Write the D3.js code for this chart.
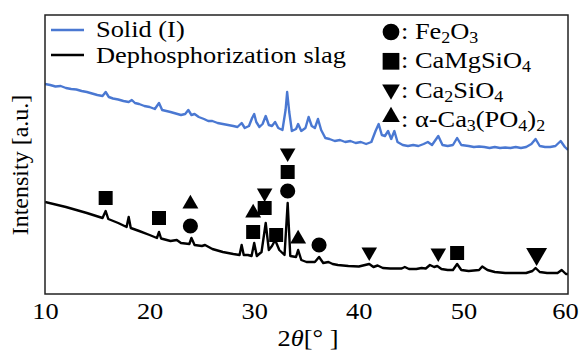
<!DOCTYPE html>
<html>
<head>
<meta charset="utf-8">
<script src="https://cdn.jsdelivr.net/npm/d3@7/dist/d3.min.js"></script>
<style>
    body { margin: 0; background: #fff; }
    svg text { font-family: "Liberation Serif", "Times New Roman", serif; fill: #000; }
</style>
</head>
<body>
<div id="chart"></div>
<script>
// XRD patterns (2theta in degrees, intensity in arbitrary units)
var SOLID_2THETA = [10, 10.5, 11, 11.5, 12, 12.5, 13, 13.5, 14, 14.5, 15, 15.5, 15.8, 16.1, 16.5, 17, 17.5, 18, 18.3, 18.6,
    19, 19.5, 20, 20.5, 20.9, 21.2, 21.6, 22, 22.5, 23, 23.4, 23.7, 24, 24.3, 24.7, 25.2, 25.6, 26, 26.5, 27,
    27.5, 28, 28.4, 28.8, 29.1, 29.5, 29.8, 30, 30.2, 30.5, 30.8, 31.1, 31.4, 31.7, 32, 32.3, 32.7, 33, 33.15, 33.35,
    33.6, 34, 34.2, 34.5, 34.9, 35.2, 35.5, 35.8, 36.1, 36.4, 36.8, 37.2, 37.7, 38.2, 38.7, 39.2, 39.7, 40.2, 40.7, 41.2,
    41.6, 41.9, 42.2, 42.5, 42.8, 43.1, 43.4, 43.7, 44.2, 44.7, 45.2, 45.7, 46.2, 46.6, 47, 47.6, 48, 48.5, 49, 49.4,
    49.8, 50.5, 51, 51.5, 52, 52.5, 53, 53.5, 54, 54.5, 55, 55.5, 56, 56.5, 56.9, 57.3, 57.8, 58.3, 58.8, 59.3,
    59.7, 60];
var SOLID_INT = [210, 209, 207.5, 208, 206, 205, 204.5, 203, 202, 200.5, 199, 198, 202, 197, 195.5, 194.5, 193, 192, 194, 191,
    190, 188, 187, 185, 191, 184, 183, 182, 180.5, 179, 180, 184, 179, 180, 177, 175, 173, 173, 171, 170,
    169, 168, 167, 171, 166, 168, 176, 180, 172, 167, 170, 178, 169, 168, 172, 166, 164, 184, 202, 182,
    163, 165, 170, 163, 166, 177, 168, 166, 175, 164, 156, 155, 153, 154, 152, 153, 151, 152, 150, 152,
    163, 170, 159, 158, 163, 155, 163, 152, 149, 148, 149, 148, 150, 152, 149, 158, 149, 148, 149, 156,
    149, 148, 147, 147.5, 147, 146, 147, 146, 146.5, 146, 147, 146, 147, 150, 155, 148, 147, 147, 148, 153,
    147, 144];

var SLAG_2THETA = [10, 12, 14, 15.5, 15.8, 16.05, 17, 17.8, 18, 18.2, 19, 20, 20.7, 20.9, 21.1, 22, 22.6, 23, 23.8, 24,
    24.3, 25, 25.3, 26, 27, 28, 28.6, 28.8, 29, 29.4, 29.75, 30, 30.25, 30.7, 31.1, 31.4, 31.7, 32, 32.4, 32.9,
    33.2, 33.45, 34, 34.2, 34.5, 35, 35.8, 36.2, 36.6, 37.1, 37.5, 38, 39, 40, 41, 41.4, 41.8, 42.3, 43, 44.1,
    44.4, 44.8, 45.5, 46, 46.4, 46.8, 47.2, 47.5, 47.9, 48.5, 49, 49.4, 49.8, 50.5, 51.5, 51.8, 52.3, 53, 54, 55,
    56, 56.6, 56.9, 57.3, 58, 59, 59.4, 59.8, 60];
var SLAG_INT = [92, 87, 81, 76, 83, 75, 71, 67, 77, 66, 63, 59, 56, 62, 55.5, 53, 54, 51, 50, 56,
    49, 48, 49, 45, 42, 40, 39, 49, 39, 39, 38, 51, 38, 42, 71, 44, 48, 54, 44, 39,
    91, 38, 37, 44, 34, 32, 32, 37, 31, 32, 30, 29, 28, 27.5, 30, 27, 28.5, 26, 25.5, 25.5,
    27, 25, 25, 26, 25.5, 29, 27, 28, 25, 24, 24, 30, 24, 23, 24, 27.5, 24, 22, 21, 21,
    21, 23, 26, 22, 21, 21, 24, 20, 20];

// phase markers placed above the slag peaks
var PHASES      = ['Fe2O3', 'CaMgSiO4', 'Ca2SiO4', 'α-Ca3(PO4)2'];
var PHASE_SHAPE = ['circle', 'square', 'down', 'up'];
var MARK_PHASE  = [1, 1, 3, 0, 3, 1, 2, 1, 1, 2, 1, 0, 3, 0, 2, 2, 1, 2];
var MARK_2THETA = [15.8, 20.9, 23.9, 23.9, 29.9, 29.9, 31.0, 31.0, 32.1, 33.2, 33.2, 33.2, 34.2, 36.2, 41.0, 47.6, 49.4, 57.0];
var MARK_LEVEL  = [96, 76, 90, 68, 81, 62, 101, 86, 59, 141, 122, 103, 55, 49, 42, 41, 41, 40];
var MARK_BIG    = [0, 0, 0, 0, 0, 0, 0, 0, 0, 0, 0, 0, 0, 0, 0, 0, 0, 1];

var SERIES_NAMES  = ['Solid (I)', 'Dephosphorization slag'];
var SERIES_COLORS = ['#4a78d2', '#000000'];
var X_TICKS = [10, 20, 30, 40, 50, 60];

(function(){
    var WIDTH        = 580,
        HEIGHT       = 352,
        PLOT_LEFT    = 45,
        PLOT_RIGHT   = 568,
        PLOT_TOP     = 15,
        PLOT_BOTTOM  = 294,
        FONT_SIZE    = 24,
        STRETCH      = 1.1;

    var svg = d3.select('#chart')
        .append('svg')
        .attr('width', WIDTH)
        .attr('height', HEIGHT);

    var x = d3.scaleLinear().domain([10, 60]).range([PLOT_LEFT, PLOT_RIGHT]);
    var y = d3.scaleLinear().domain([0, 279]).range([PLOT_BOTTOM, PLOT_TOP]);

    var symbolFor = {
        circle: { type: d3.symbolCircle, rot: 0, size: 180 },
        square: { type: d3.symbolSquare, rot: 0, size: 196 },
        down:   { type: d3.symbolTriangle, rot: 180, size: 105 },
        up:     { type: d3.symbolTriangle, rot: 0, size: 110 }
    };

    // write text with digits as subscripts (chemical formulas)
    function richText(sel, str){
        var shift = 0;
        str.split(/(\d+)/).forEach(function(part, i){
            if(!part) return;
            var t = sel.append('tspan').text(part);
            if(i % 2 === 1){
                t.attr('font-size', '0.68em').attr('dy', 4 - shift);
                shift = 4;
            } else if(shift){
                t.attr('dy', -shift);
                shift = 0;
            }
        });
    }

    function stretchedText(px, py){
        return svg.append('text')
            .attr('transform', 'translate(' + px + ',' + py + ') scale(' + STRETCH + ',1)')
            .attr('font-size', FONT_SIZE);
    }

    svg.append('clipPath').attr('id', 'plot-clip')
        .append('rect')
        .attr('x', PLOT_LEFT).attr('y', PLOT_TOP)
        .attr('width', PLOT_RIGHT - PLOT_LEFT).attr('height', PLOT_BOTTOM - PLOT_TOP);

    var line = d3.line()
        .x(function(d){ return x(d[0]); })
        .y(function(d){ return y(d[1]); });

    var series = [d3.zip(SOLID_2THETA, SOLID_INT), d3.zip(SLAG_2THETA, SLAG_INT)];

    svg.append('g')
        .attr('clip-path', 'url(#plot-clip)')
        .selectAll('path')
        .data(series)
        .enter().append('path')
        .attr('d', line)
        .attr('fill', 'none')
        .attr('stroke', function(d, i){ return SERIES_COLORS[i]; })
        .attr('stroke-width', 2.4)
        .attr('stroke-linejoin', 'round');

    // markers
    svg.append('g')
        .selectAll('path')
        .data(d3.range(MARK_2THETA.length))
        .enter().append('path')
        .attr('d', function(i){
            var s = symbolFor[PHASE_SHAPE[MARK_PHASE[i]]];
            return d3.symbol().type(s.type).size(MARK_BIG[i] ? 190 : s.size)();
        })
        .attr('transform', function(i){
            var s = symbolFor[PHASE_SHAPE[MARK_PHASE[i]]];
            return 'translate(' + x(MARK_2THETA[i]) + ',' + y(MARK_LEVEL[i]) + ') rotate(' + s.rot + ')';
        })
        .attr('fill', '#000');

    // frame
    svg.append('rect')
        .attr('x', PLOT_LEFT).attr('y', PLOT_TOP)
        .attr('width', PLOT_RIGHT - PLOT_LEFT).attr('height', PLOT_BOTTOM - PLOT_TOP)
        .attr('fill', 'none')
        .attr('stroke', '#222')
        .attr('stroke-width', 1.5);

    // x axis labels
    var xAxis = d3.axisBottom(x).tickValues(X_TICKS).tickSize(0).tickPadding(8);
    var axisG = svg.append('g')
        .attr('transform', 'translate(0,' + PLOT_BOTTOM + ')')
        .call(xAxis);
    axisG.select('.domain').remove();
    axisG.selectAll('text')
        .attr('font-size', FONT_SIZE)
        .attr('font-family', '"Liberation Serif", serif')
        .attr('fill', '#000')
        .attr('transform', function(d){
            // last label pulled in a little so it stays on the page
            var dx = d === 60 ? -3 : 0;
            return 'translate(' + dx + ',0) scale(' + STRETCH + ',1)';
        });

    var xTitle = stretchedText(308, 346).attr('text-anchor', 'middle');
    xTitle.append('tspan').text('2');
    xTitle.append('tspan').attr('font-style', 'italic').text('θ');
    xTitle.append('tspan').text('[° ]');

    svg.append('text')
        .attr('transform', 'translate(28,165) rotate(-90)')
        .attr('text-anchor', 'middle')
        .attr('font-size', FONT_SIZE)
        .text('Intensity [a.u.]');

    // series legend
    [30, 55].forEach(function(ly, i){
        svg.append('line')
            .attr('x1', 51).attr('x2', 84)
            .attr('y1', ly).attr('y2', ly)
            .attr('stroke', SERIES_COLORS[i])
            .attr('stroke-width', 2.4);
        stretchedText(96, ly + 7 + i).text(SERIES_NAMES[i]);
    });

    // phase legend
    PHASES.forEach(function(name, i){
        var base = 39 + i * 29.3;
        var shape = PHASE_SHAPE[i];
        var s = symbolFor[shape];
        var size = shape === 'circle' ? 220 : shape === 'square' ? 280 : 135;
        var cy = shape === 'up' ? base - 10 : shape === 'down' ? base - 8 : base - 7;
        svg.append('path')
            .attr('d', d3.symbol().type(s.type).size(size)())
            .attr('transform', 'translate(391,' + cy + ') rotate(' + s.rot + ')')
            .attr('fill', '#000');
        richText(stretchedText(401, base), ': ' + name);
    });

})();
</script>
</body>
</html>
